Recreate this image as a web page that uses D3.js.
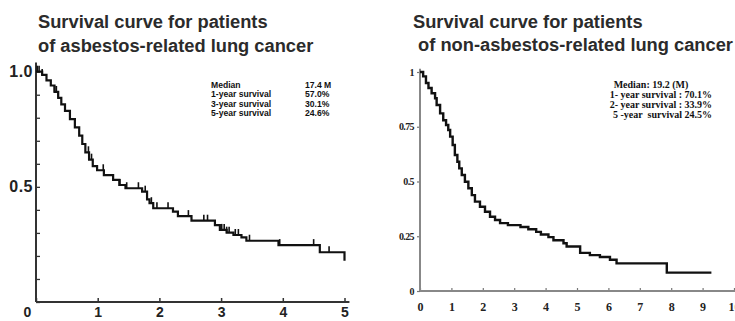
<!DOCTYPE html>
<html>
<head>
<meta charset="utf-8">
<script src="https://cdn.jsdelivr.net/npm/d3@7"></script>
<style>
  body { margin: 0; background: #fff; }
  svg { display: block; }
</style>
</head>
<body>
<svg id="chart" width="735" height="321"></svg>
<script>
// ---- data ----
// asbestos-related: step times (years) and survival after each step
var leftTimes = [0, 0.1, 0.17, 0.24, 0.3, 0.36, 0.41, 0.47, 0.55, 0.63, 0.7, 0.75, 0.8, 0.86, 0.92, 0.99,
    1.1, 1.25, 1.35, 1.45, 1.72, 1.8, 1.84, 1.9, 2.22, 2.3, 2.52, 2.9, 2.98, 3.09, 3.2, 3.33, 3.41,
    3.93, 4.6, 5.0];
var leftSurv = [1.0, 0.986, 0.962, 0.94, 0.912, 0.886, 0.858, 0.83, 0.794, 0.758, 0.722, 0.686, 0.65,
    0.618, 0.59, 0.572, 0.551, 0.53, 0.508, 0.494, 0.479, 0.446, 0.429, 0.407, 0.392, 0.373, 0.353,
    0.334, 0.313, 0.301, 0.291, 0.281, 0.266, 0.247, 0.216, 0.179];
// censored cases (tick marks on the curve)
var leftCensor = [0.02, 0.05, 0.1, 0.3, 0.33, 0.36, 0.85, 0.9, 1.09, 1.36, 1.47, 1.66, 1.77, 1.87, 1.96,
    2.14, 2.47, 2.72, 2.78, 3.01, 3.05, 3.09, 3.13, 3.23, 3.28, 3.46, 3.95, 4.5, 4.75];

// non-asbestos-related
var rightTimes = [0, 0.1, 0.19, 0.27, 0.37, 0.48, 0.53, 0.64, 0.74, 0.83, 0.9, 0.96, 1.04, 1.11, 1.19,
    1.25, 1.33, 1.43, 1.54, 1.65, 1.75, 1.91, 2.07, 2.23, 2.39, 2.55, 2.8, 3.2, 3.45, 3.7, 3.85, 4.09,
    4.25, 4.57, 4.67, 5.1, 5.41, 5.73, 6.05, 6.26, 7.86, 9.28];
var rightSurv = [1.0, 0.98, 0.95, 0.927, 0.903, 0.88, 0.849, 0.811, 0.78, 0.758, 0.735, 0.705, 0.667,
    0.621, 0.59, 0.56, 0.53, 0.499, 0.469, 0.438, 0.408, 0.385, 0.362, 0.339, 0.324, 0.31, 0.301,
    0.292, 0.282, 0.27, 0.258, 0.246, 0.232, 0.218, 0.203, 0.174, 0.164, 0.155, 0.143, 0.126, 0.084,
    0.084];

var leftTitle = ["Survival curve for patients", "of asbestos-related lung cancer"];
var rightTitle = ["Survival curve for patients", " of non-asbestos-related lung cancer"];

var leftNoteLabels = ["Median", "1-year survival", "3-year survival", "5-year survival"];
var leftNoteValues = ["17.4 M", "57.0%", "30.1%", "24.6%"];
var rightNotes = ["Median: 19.2 (M)", "1- year survival : 70.1%", "2- year survival : 33.9%",
    "5 -year  survival 24.5%"];

var leftXTicks = [0, 1, 2, 3, 4, 5];
var leftYLabels = [0.5, 1.0];
var rightXTicks = [0, 1, 2, 3, 4, 5, 6, 7, 8, 9, 10];
var rightYTicks = [0, 0.25, 0.5, 0.75, 1];

var svg = d3.select("#chart");

function stepPoints(times, surv) {
    return times.map(function(t, i) { return [t, surv[i]]; });
}

function survAt(times, surv, t) {
    var s = surv[0];
    for (var i = 0; i < times.length; i++) {
        if (times[i] <= t) s = surv[i];
    }
    return s;
}

// ================= left panel =================
var xL = d3.scaleLinear().domain([0, 5]).range([36, 344.5]);
var yL = d3.scaleLinear().domain([0, 1]).range([302, 71.7]);

var gL = svg.append("g");

gL.selectAll("text.title")
    .data(leftTitle)
    .enter()
    .append("text")
    .attr("class", "title")
    .attr("x", 38)
    .attr("y", function(d, i) { return 28 + i * 23.5; })
    .style("font", "bold 18.3px 'Liberation Sans', Arial, sans-serif")
    .style("fill", "#2b2b2b")
    .text(function(d) { return d; });

// inner y ticks every 0.1
gL.append("g")
    .attr("transform", "translate(" + xL(0) + ",0)")
    .call(d3.axisRight(yL).tickValues(d3.range(0, 1.001, 0.1)).tickSize(4).tickFormat(""))
    .call(function(g) { g.select(".domain").remove(); })
    .selectAll("line").style("stroke", "#333").style("stroke-width", 1.3);

gL.append("g")
    .attr("transform", "translate(" + xL(0) + ",0)")
    .call(d3.axisLeft(yL).tickValues(leftYLabels).tickSize(0).tickPadding(3).tickFormat(d3.format(".1f")))
    .call(function(g) { g.select(".domain").remove(); })
    .selectAll("text")
    .style("font", "bold 16px 'Liberation Sans', Arial, sans-serif")
    .style("letter-spacing", "0.5px")
    .style("fill", "#222");

gL.append("g")
    .attr("transform", "translate(0," + yL(0) + ")")
    .call(d3.axisBottom(xL).tickValues(leftXTicks).tickSize(-4).tickPadding(5).tickFormat(d3.format("d")))
    .call(function(g) { g.select(".domain").remove(); })
    .call(function(g) {
        g.selectAll("line").style("stroke", "#333").style("stroke-width", 1.5);
        g.selectAll("text")
            .style("font", "bold 14px 'Liberation Sans', Arial, sans-serif")
            .style("fill", "#222")
            .attr("dx", function(d) { return d === 0 ? -9 : 0; });
    });

// axis lines
gL.append("line")
    .attr("x1", xL(0)).attr("x2", xL(0))
    .attr("y1", yL(0)).attr("y2", yL(1.04))
    .style("stroke", "#333").style("stroke-width", 2);
gL.append("line")
    .attr("x1", xL(0)).attr("x2", xL(5.08))
    .attr("y1", yL(0)).attr("y2", yL(0))
    .style("stroke", "#333").style("stroke-width", 2);

var lineL = d3.line()
    .x(function(d) { return xL(d[0]); })
    .y(function(d) { return yL(d[1]); })
    .curve(d3.curveStepAfter);

gL.append("path")
    .datum(stepPoints(leftTimes, leftSurv))
    .attr("d", lineL)
    .style("fill", "none")
    .style("stroke", "#111")
    .style("stroke-width", 2.2);

gL.selectAll("line.censor")
    .data(leftCensor)
    .enter()
    .append("line")
    .attr("class", "censor")
    .attr("x1", function(d) { return xL(d); })
    .attr("x2", function(d) { return xL(d); })
    .attr("y1", function(d) { return yL(survAt(leftTimes, leftSurv, d)); })
    .attr("y2", function(d) { return yL(survAt(leftTimes, leftSurv, d)) - 6; })
    .style("stroke", "#111")
    .style("stroke-width", 1.6);

var noteL = gL.append("g").style("font", "bold 8.6px 'Liberation Sans', Arial, sans-serif").style("fill", "#111");
noteL.selectAll("text.lab")
    .data(leftNoteLabels)
    .enter()
    .append("text")
    .attr("class", "lab")
    .attr("x", 211)
    .attr("y", function(d, i) { return 88 + i * 9.3; })
    .text(function(d) { return d; });
noteL.selectAll("text.val")
    .data(leftNoteValues)
    .enter()
    .append("text")
    .attr("class", "val")
    .attr("x", 305)
    .attr("y", function(d, i) { return 88 + i * 9.3; })
    .text(function(d) { return d; });

// ================= right panel =================
var xR = d3.scaleLinear().domain([0, 10]).range([420, 734]);
var yR = d3.scaleLinear().domain([0, 1]).range([291, 72]);

var gR = svg.append("g");

gR.selectAll("text.title")
    .data(rightTitle)
    .enter()
    .append("text")
    .attr("class", "title")
    .attr("x", 413)
    .attr("y", function(d, i) { return 27.5 + i * 23.5; })
    .attr("xml:space", "preserve")
    .style("white-space", "pre")
    .style("font", "bold 18.3px 'Liberation Sans', Arial, sans-serif")
    .style("fill", "#2b2b2b")
    .text(function(d) { return d; });

gR.append("g")
    .attr("transform", "translate(0," + yR(0) + ")")
    .call(d3.axisBottom(xR).tickValues(rightXTicks).tickSize(-3).tickPadding(11).tickFormat(d3.format("d")))
    .call(function(g) { g.select(".domain").remove(); })
    .call(function(g) {
        g.selectAll("line").style("stroke", "#777").style("stroke-width", 1.2);
        g.selectAll("text")
            .style("font", "bold 12px 'Liberation Serif', 'Times New Roman', serif")
            .style("fill", "#222");
    });

gR.append("g")
    .attr("transform", "translate(" + xR(0) + ",0)")
    .call(d3.axisLeft(yR).tickValues(rightYTicks).tickSize(3).tickPadding(3).tickFormat(function(d) { return String(d); }))
    .call(function(g) { g.select(".domain").remove(); })
    .call(function(g) {
        g.selectAll("line").style("stroke", "#777").style("stroke-width", 1.2);
        g.selectAll("text")
            .style("font", "bold 10px 'Liberation Serif', 'Times New Roman', serif")
            .style("letter-spacing", "-0.6px")
            .style("fill", "#222");
    });

gR.append("line")
    .attr("x1", xR(0)).attr("x2", xR(0))
    .attr("y1", yR(0)).attr("y2", yR(1.015))
    .style("stroke", "#888").style("stroke-width", 2);
gR.append("line")
    .attr("x1", xR(0)).attr("x2", xR(10.05))
    .attr("y1", yR(0)).attr("y2", yR(0))
    .style("stroke", "#888").style("stroke-width", 2);

var lineR = d3.line()
    .x(function(d) { return xR(d[0]); })
    .y(function(d) { return yR(d[1]); })
    .curve(d3.curveStepAfter);

gR.append("path")
    .datum(stepPoints(rightTimes, rightSurv))
    .attr("d", lineR)
    .style("fill", "none")
    .style("stroke", "#111")
    .style("stroke-width", 2.4);

var noteR = gR.append("g").style("font", "bold 10px 'Liberation Serif', 'Times New Roman', serif").style("fill", "#111");
noteR.selectAll("text")
    .data(rightNotes)
    .enter()
    .append("text")
    .attr("xml:space", "preserve")
    .style("white-space", "pre")
    .attr("x", function(d, i) { return i === 0 ? 651 : 712; })
    .attr("y", function(d, i) { return 88 + i * 9.9; })
    .attr("text-anchor", function(d, i) { return i === 0 ? "middle" : "end"; })
    .text(function(d) { return d; });
</script>
</body>
</html>
